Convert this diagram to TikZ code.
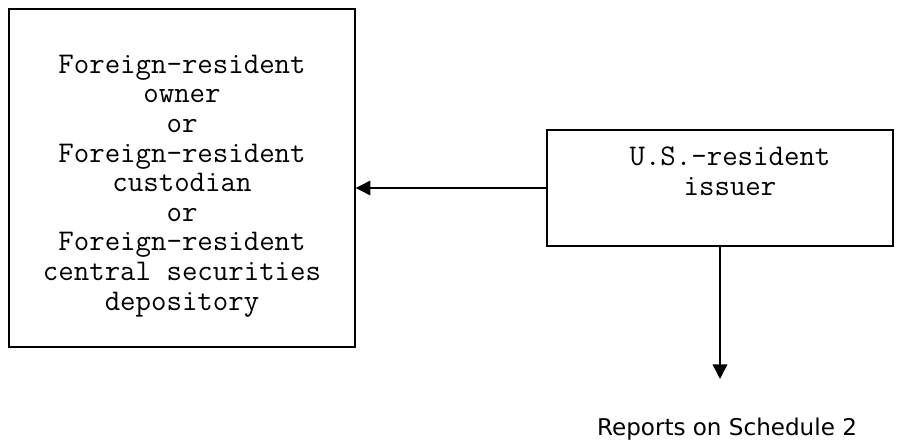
\documentclass[tikz,border=0pt]{standalone}
\usepackage{fontspec}
\newfontfamily\reportfont{DejaVu Sans}
\usetikzlibrary{arrows.meta,positioning}

\begin{document}
\begin{tikzpicture}[x=0.75pt,y=-0.75pt,
          box/.style={draw,rectangle,inner sep=0pt,line width=1.1pt,minimum width=259.5pt},
          boxtext/.style={align=center,inner sep=0pt,font=\fontsize{22.5}{22.2}\selectfont\ttfamily},
          lab/.style={inner sep=0pt,font=\fontsize{17.3}{20}\selectfont\reportfont},
          every path/.style={line width=1.1pt,-{Triangle[length=11pt,width=11pt]}}
        ]
        \useasboundingbox (0,0) rectangle (902,445);

        %boxes
        \node[box,minimum height=253.5pt] (holder) at (182,178) {};
        \node[box,minimum height=87pt] (issuer) at (720,188) {};

        %texts
        \node[boxtext] (holdertext) at (182,186) {Foreign-resident\\owner\\or\\Foreign-resident\\custodian\\or\\Foreign-resident\\central securities\\depository};
        \node[boxtext] (issuertext) at (730,171) {U.S.-resident\\issuer};
        \node[lab] (report) at (727,429) {Reports on Schedule 2};
        \coordinate (tip) at (720,379);

        \draw (issuer.west) -- (issuer.west -| holder.east);
        \draw (issuer.south) -- (tip);
\end{tikzpicture}
\end{document}
